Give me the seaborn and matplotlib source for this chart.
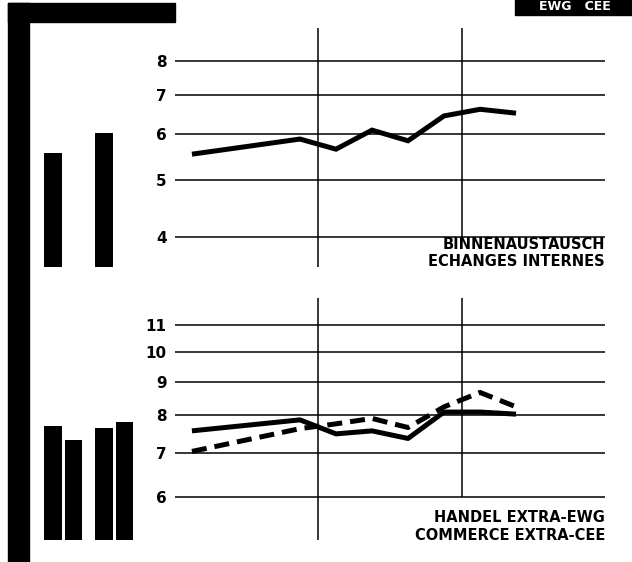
import numpy as np
import pandas as pd
import matplotlib
matplotlib.use("Agg")
import matplotlib.pyplot as plt
from matplotlib.patches import Rectangle
from matplotlib.ticker import NullLocator
import seaborn as sns

# quarters on a common x index (0 = first quarter of first year)
top_x = [0, 3, 4, 5, 6, 7, 8, 9]
top_vals = [5.54, 5.88, 5.65, 6.09, 5.84, 6.44, 6.61, 6.51]

ext_x = [0, 3, 4, 5, 6, 7, 8, 9]
ext_einfuhr = [7.57, 7.87, 7.49, 7.57, 7.37, 8.09, 8.09, 8.03]
ext_ausfuhr = [7.04, 7.63, 7.76, 7.91, 7.66, 8.24, 8.67, 8.24]

# annual bars on the left
bar_years = ["J1", "J2"]
bar_top = [5.56, 6.02]
bar_ext_einfuhr = [7.69, 7.66]
bar_ext_ausfuhr = [7.34, 7.82]

top_ticks = [4, 5, 6, 7, 8]
bottom_ticks = [6, 7, 8, 9, 10, 11]
series_order = ["einfuhr", "ausfuhr"]

sns.set_style("white")
plt.rcParams["font.family"] = ["DejaVu Sans"]
plt.rcParams["text.color"] = "black"
plt.rcParams["ytick.color"] = "black"

W, H = 632, 562
fig = plt.figure(figsize=(W / 100, H / 100), dpi=100)


def fig_box(x0, y0, x1, y1):
    # pixel box (top-left origin) -> figure fraction rect
    return [x0 / W, 1 - y1 / H, (x1 - x0) / W, (y1 - y0) / H]


def style_line_axes(ax, ticks, ylim):
    ax.set_yscale("log")
    ax.set_ylim(*ylim)
    ax.set_xlim(-0.47, 11.47)
    ax.set_yticks(ticks)
    ax.set_yticklabels([str(t) for t in ticks], fontweight="bold",
                       family=["Liberation Sans Narrow", "DejaVu Sans"])
    ax.yaxis.set_minor_locator(NullLocator())
    ax.set_xticks([])
    ax.tick_params(axis="y", length=0, pad=6, labelsize=11, labelcolor="black")
    ax.yaxis.grid(True, color="black", lw=1.1)
    ax.xaxis.grid(False)
    for s in ax.spines.values():
        s.set_visible(False)
    ax.set_xlabel("")
    ax.set_ylabel("")
    ax.axvline(3.5, color="black", lw=1.1, zorder=1)
    ax.vlines(7.5, ticks[0], ylim[1], color="black", lw=1.1, zorder=1)


def bars(ax, df):
    sns.barplot(data=df, x="jahr", y="wert", hue="reihe", hue_order=series_order,
                order=bar_years, palette={"einfuhr": "black", "ausfuhr": "black"},
                saturation=1, width=0.8, gap=0.15, dodge=True, ax=ax,
                legend=False, linewidth=0)
    ax.set_xlim(-0.65, 1.9)
    ax.axis("off")


# ---- top panel: Binnenaustausch
ax1 = fig.add_axes(fig_box(175, 28, 605, 267))
df_top = pd.DataFrame({"x": top_x, "wert": top_vals})
sns.lineplot(data=df_top, x="x", y="wert", color="black", lw=3.6, ax=ax1,
             solid_capstyle="butt", solid_joinstyle="miter")
style_line_axes(ax1, top_ticks, (3.555, 9.1))
ax1.text(1.0, 0.094, "BINNENAUSTAUSCH", transform=ax1.transAxes, ha="right",
         va="center", fontsize=10.5, fontweight="bold")
ax1.text(1.0, 0.021, "ECHANGES INTERNES", transform=ax1.transAxes, ha="right",
         va="center", fontsize=10.5, fontweight="bold")

axb1 = fig.add_axes(fig_box(30, 28, 160, 267), sharey=ax1)
bars(axb1, pd.DataFrame({"jahr": bar_years, "wert": bar_top,
                         "reihe": ["einfuhr"] * len(bar_years)}))

# ---- bottom panel: Handel extra-EWG
ax2 = fig.add_axes(fig_box(175, 298, 605, 540))
df_ext = pd.DataFrame({
    "x": ext_x + ext_x,
    "wert": ext_einfuhr + ext_ausfuhr,
    "reihe": ["einfuhr"] * len(ext_x) + ["ausfuhr"] * len(ext_x),
})
sns.lineplot(data=df_ext, x="x", y="wert", style="reihe", style_order=series_order,
             dashes={"einfuhr": "", "ausfuhr": (3, 1.6)}, color="black", lw=3.6,
             ax=ax2, legend=False, dash_capstyle="butt", solid_capstyle="butt")
style_line_axes(ax2, bottom_ticks, (5.15, 12.1))
ax2.text(1.0, 0.093, "HANDEL EXTRA-EWG", transform=ax2.transAxes, ha="right",
         va="center", fontsize=10.5, fontweight="bold")
ax2.text(1.0, 0.017, "COMMERCE EXTRA-CEE", transform=ax2.transAxes, ha="right",
         va="center", fontsize=10.5, fontweight="bold")

axb2 = fig.add_axes(fig_box(30, 298, 160, 540), sharey=ax2)
bars(axb2, pd.DataFrame({
    "jahr": bar_years + bar_years,
    "wert": bar_ext_einfuhr + bar_ext_ausfuhr,
    "reihe": ["einfuhr"] * 2 + ["ausfuhr"] * 2,
}))

# ---- page frame and header tab
fig.patches.append(Rectangle((8 / W, 0), 21 / W, 1 - 3 / H, transform=fig.transFigure,
                             color="black", zorder=0))
fig.patches.append(Rectangle((8 / W, 1 - 22 / H), 167 / W, 19 / H,
                             transform=fig.transFigure, color="black", zorder=0))
fig.patches.append(Rectangle((515 / W, 1 - 15 / H), 117 / W, 15 / H,
                             transform=fig.transFigure, color="black", zorder=0))
fig.text(575 / W, 1 - 7 / H, "EWG   CEE", color="white", ha="center", va="center",
         fontsize=9, fontweight="bold")

fig.savefig("out.png", dpi=100)
